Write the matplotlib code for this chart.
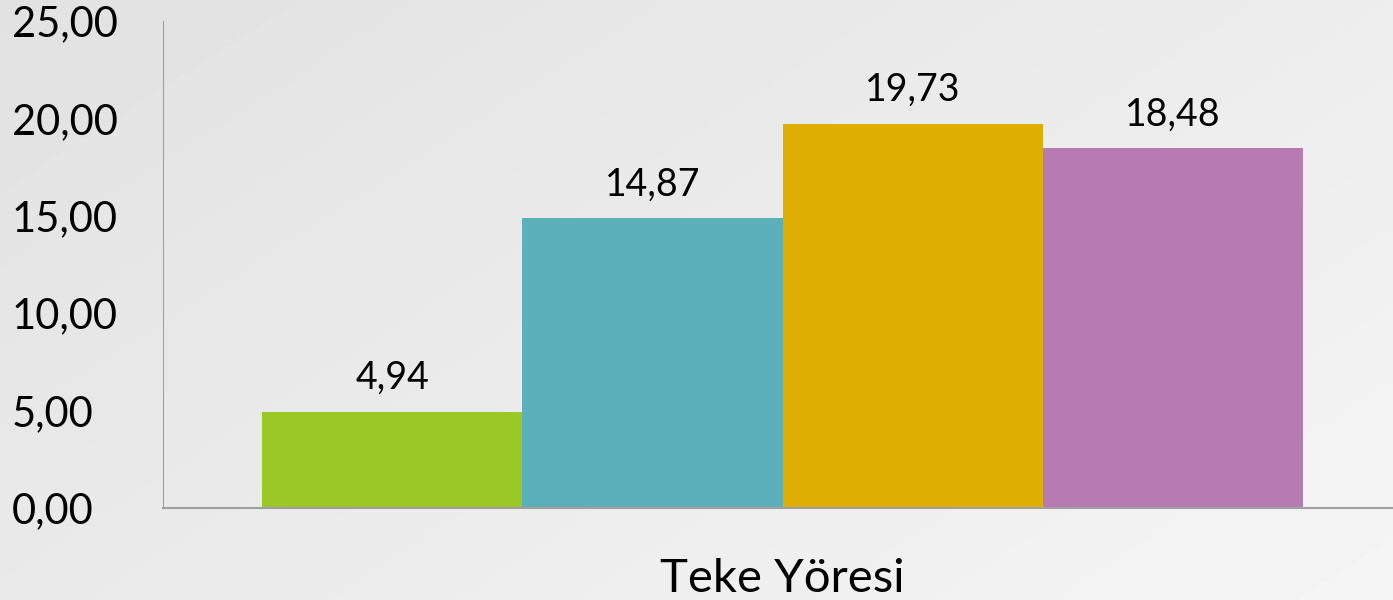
import matplotlib.pyplot as plt
import numpy as np

plt.rcParams['font.family'] = ['Lato', 'DejaVu Sans']

category = 'Teke Yöresi'
values = [4.94, 14.87, 19.73, 18.48]
colors = ['#9bc824', '#5bb0b9', '#deaf02', '#b77bb3']
yticks = [0, 5, 10, 15, 20, 25]

def fmt(v):
    return ('%.2f' % v).replace('.', ',')

fig = plt.figure(figsize=(13.93, 6), dpi=100)

# light gray gradient background, lighter toward bottom right
bg = fig.add_axes([0, 0, 1, 1], zorder=-10)
gx, gy = np.meshgrid(np.linspace(0, 1, 300), np.linspace(0, 1, 130))
grad = 0.885 + 0.045 * gx + 0.03 * gy
bg.imshow(grad, cmap='gray', vmin=0, vmax=1, aspect='auto', extent=[0, 1, 0, 1])
bg.axis('off')

ax = fig.add_axes([163/1393, 92/600, (1402-163)/1393, 487/600])
ax.patch.set_alpha(0)

w = 0.21
x = (np.arange(len(values)) - 1.5) * w
bars = ax.bar(x, values, width=w, color=colors)
for b, v in zip(bars, values):
    ax.text(b.get_x() + b.get_width()/2, v + 0.8, fmt(v), ha='center', va='bottom', fontsize=27)

ax.set_xlim(-0.5, 0.5)
ax.set_ylim(0, 25)
ax.set_yticks(yticks)
ax.set_yticklabels([fmt(t) for t in yticks], fontsize=30)
ax.set_xticks([0])
ax.set_xticklabels([category], fontsize=34)
ax.tick_params(axis='x', length=0, pad=36)
ax.tick_params(axis='y', length=0, pad=109)
for lbl in ax.get_yticklabels():
    lbl.set_horizontalalignment('left')
for s in ['top', 'right']:
    ax.spines[s].set_visible(False)
ax.spines['left'].set_color('#a0a0a0')
ax.spines['bottom'].set_color('#a0a0a0')
ax.spines['bottom'].set_linewidth(1.5)

plt.savefig('out.png', dpi=100)
